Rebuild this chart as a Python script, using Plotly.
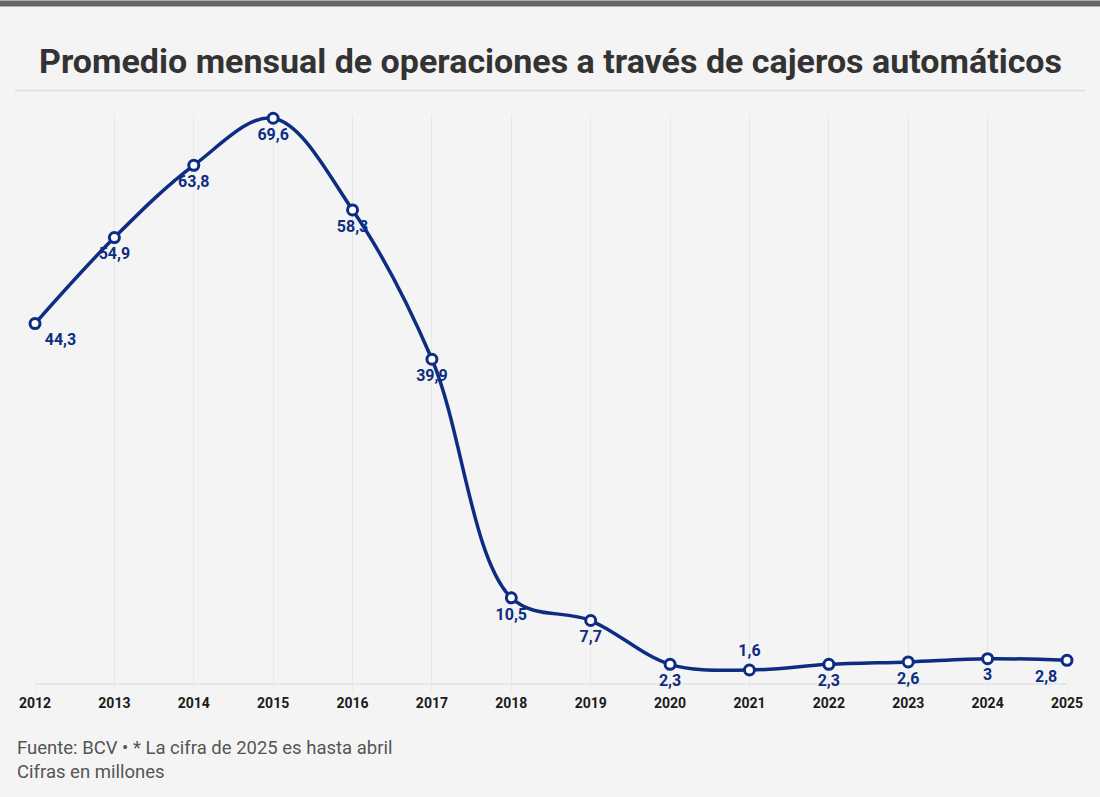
import plotly.graph_objects as go

years = [2012, 2013, 2014, 2015, 2016, 2017, 2018, 2019, 2020, 2021, 2022, 2023, 2024, 2025]
values = [44.3, 54.9, 63.8, 69.6, 58.3, 39.9, 10.5, 7.7, 2.3, 1.6, 2.3, 2.6, 3, 2.8]
labels = ["44,3", "54,9", "63,8", "69,6", "58,3", "39,9", "10,5", "7,7", "2,3", "1,6", "2,3", "2,6", "3", "2,8"]
positions = ["bottom right"] + ["bottom center"] * 8 + ["top center"] + ["bottom center"] * 3 + ["bottom left"]

BLUE = "#0d2d82"
W, H = 1100, 797
L, R, T, B = 35, 33, 114.6, 114
pw, ph = W - L - R, H - T - B

def px(X):
    return (X - L) / pw

def py(Y):
    return (H - B - Y) / ph

fig = go.Figure()
fig.add_trace(go.Scatter(
    x=years, y=values, mode="lines+markers",
    line=dict(color=BLUE, width=3.5, shape="spline", smoothing=1.0),
    marker=dict(size=10, color="white", line=dict(color=BLUE, width=3)),
    cliponaxis=False, hoverinfo="skip",
))
fig.add_trace(go.Scatter(
    x=years, y=values, mode="markers+text",
    marker=dict(size=14, color="rgba(0,0,0,0)"),
    text=labels, textposition=positions,
    textfont=dict(family="Roboto", size=16, color=BLUE, weight="bold"),
    cliponaxis=False, hoverinfo="skip",
))

fig.update_layout(
    width=W, height=H,
    paper_bgcolor="#f4f4f4", plot_bgcolor="#f4f4f4",
    margin=dict(l=L, r=R, t=T, b=B),
    showlegend=False,
    xaxis=dict(range=[2012, 2025], tickmode="array", tickvals=years,
               ticktext=[str(y) for y in years],
               showgrid=True, gridcolor="#e8e8e8", gridwidth=1,
               showline=True, linecolor="#e6e6e6", linewidth=2,
               ticks="outside", ticklen=6, tickcolor="#e8e8e8",
               tickfont=dict(family="Roboto", size=14, color="#1a1a1a", weight="bold"),
               zeroline=False, fixedrange=True, layer="below traces"),
    yaxis=dict(range=[0, 70], visible=False, showgrid=False, zeroline=False, fixedrange=True),
    shapes=[
        dict(type="rect", xref="paper", yref="paper", x0=px(0), x1=px(W), y0=py(6), y1=py(0),
             fillcolor="#666666", line=dict(width=0), layer="above"),
        dict(type="line", xref="paper", yref="paper", x0=px(15), x1=px(1085), y0=py(90), y1=py(90),
             line=dict(color="#dcdcdc", width=1.5)),
    ],
    annotations=[
        dict(text="<b>Promedio mensual de operaciones a través de cajeros automáticos</b>",
             xref="paper", yref="paper", x=px(550), y=py(61), xanchor="center", yanchor="middle",
             showarrow=False, font=dict(family="Roboto", size=34, color="#333333")),
        dict(text="Fuente: BCV • * La cifra de 2025 es hasta abril",
             xref="paper", yref="paper", x=px(15), y=py(748), xanchor="left", yanchor="middle",
             showarrow=False, font=dict(family="Roboto", size=18.5, color="#555555")),
        dict(text="Cifras en millones",
             xref="paper", yref="paper", x=px(15), y=py(772), xanchor="left", yanchor="middle",
             showarrow=False, font=dict(family="Roboto", size=18.5, color="#555555")),
    ],
)

fig.write_html("out.html", config={"displayModeBar": False},
               post_script="document.body.style.margin='0';")
